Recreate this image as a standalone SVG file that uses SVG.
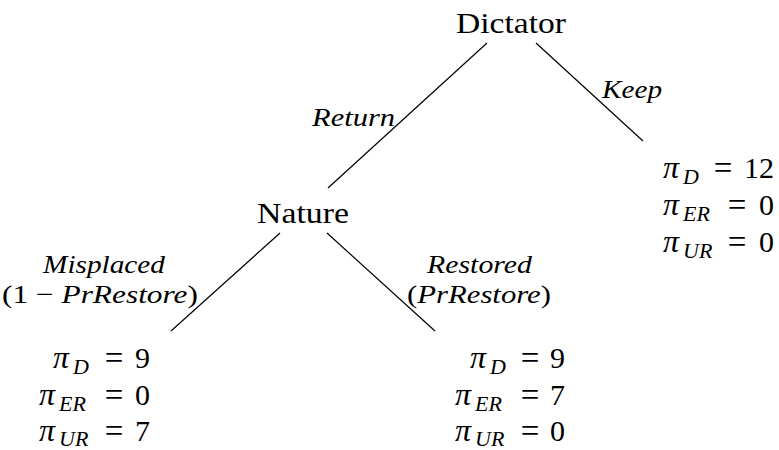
<svg xmlns="http://www.w3.org/2000/svg" width="779" height="450" viewBox="0 0 779 450" font-family="'Liberation Serif', serif">
<style>
.t{font-family:"Liberation Serif",serif;fill:#000}
.node{font-size:30px;text-anchor:middle}
.lab{font-size:26px;font-style:italic}
.up{font-style:normal}
.m{font-size:30px;font-style:normal}
.pi{font-style:italic;font-size:32px}
.sub{font-size:22px;font-style:italic}
.eq{font-size:33px;text-anchor:middle}
.edge{stroke:#000;stroke-width:1.2;fill:none}
</style>
<rect width="779" height="450" fill="#fff"/>
<g id="connectors">
<line class="edge" x1="487" y1="43" x2="328" y2="188"/>
<line class="edge" x1="536" y1="43" x2="643" y2="141"/>
<line class="edge" x1="280" y1="233" x2="171" y2="331"/>
<line class="edge" x1="327" y1="233" x2="435" y2="331"/>
<text class="t lab" x="312" y="126" textLength="83" lengthAdjust="spacingAndGlyphs">Return</text>
<text class="t lab" x="602" y="98" textLength="60" lengthAdjust="spacingAndGlyphs">Keep</text>
<text class="t lab" x="43" y="273" textLength="122" lengthAdjust="spacingAndGlyphs">Misplaced</text>
<text class="t lab" x="2" y="303" textLength="196" lengthAdjust="spacingAndGlyphs"><tspan class="up">(1 − </tspan>PrRestore<tspan class="up">)</tspan></text>
<text class="t lab" x="427" y="273" textLength="105" lengthAdjust="spacingAndGlyphs">Restored</text>
<text class="t lab" x="407" y="303" textLength="144" lengthAdjust="spacingAndGlyphs"><tspan class="up">(</tspan>PrRestore<tspan class="up">)</tspan></text>
</g>
<g id="dictator">
<text class="t node" x="511" y="33" textLength="110" lengthAdjust="spacingAndGlyphs">Dictator</text>
</g>
<g id="nature">
<text class="t node" x="303" y="223" textLength="92" lengthAdjust="spacingAndGlyphs">Nature</text>
</g>
<g id="leaf-keep">
<text class="t m" y="178"><tspan class="pi" x="663">π</tspan><tspan class="sub" x="683" dy="6">D</tspan><tspan class="eq" x="723" dy="-5">=</tspan><tspan x="774" dy="-1" text-anchor="end">12</tspan></text>
<text class="t m" y="215"><tspan class="pi" x="663">π</tspan><tspan class="sub" x="683" dy="6">ER</tspan><tspan class="eq" x="737" dy="-5">=</tspan><tspan x="774" dy="-1" text-anchor="end">0</tspan></text>
<text class="t m" y="252"><tspan class="pi" x="663">π</tspan><tspan class="sub" x="683" dy="6">UR</tspan><tspan class="eq" x="737" dy="-5">=</tspan><tspan x="774" dy="-1" text-anchor="end">0</tspan></text>
</g>
<g id="leaf-misplaced">
<text class="t m" y="368"><tspan class="pi" x="53">π</tspan><tspan class="sub" x="73" dy="6">D</tspan><tspan class="eq" x="114" dy="-5">=</tspan><tspan x="150" dy="-1" text-anchor="end">9</tspan></text>
<text class="t m" y="405"><tspan class="pi" x="39">π</tspan><tspan class="sub" x="59" dy="6">ER</tspan><tspan class="eq" x="114" dy="-5">=</tspan><tspan x="150" dy="-1" text-anchor="end">0</tspan></text>
<text class="t m" y="441"><tspan class="pi" x="39">π</tspan><tspan class="sub" x="59" dy="5">UR</tspan><tspan class="eq" x="114" dy="-4">=</tspan><tspan x="150" dy="-1" text-anchor="end">7</tspan></text>
</g>
<g id="leaf-restored">
<text class="t m" y="368"><tspan class="pi" x="470">π</tspan><tspan class="sub" x="490" dy="6">D</tspan><tspan class="eq" x="530" dy="-5">=</tspan><tspan x="565" dy="-1" text-anchor="end">9</tspan></text>
<text class="t m" y="405"><tspan class="pi" x="455">π</tspan><tspan class="sub" x="475" dy="6">ER</tspan><tspan class="eq" x="530" dy="-5">=</tspan><tspan x="565" dy="-1" text-anchor="end">7</tspan></text>
<text class="t m" y="441"><tspan class="pi" x="455">π</tspan><tspan class="sub" x="475" dy="5">UR</tspan><tspan class="eq" x="530" dy="-4">=</tspan><tspan x="565" dy="-1" text-anchor="end">0</tspan></text>
</g>
</svg>
